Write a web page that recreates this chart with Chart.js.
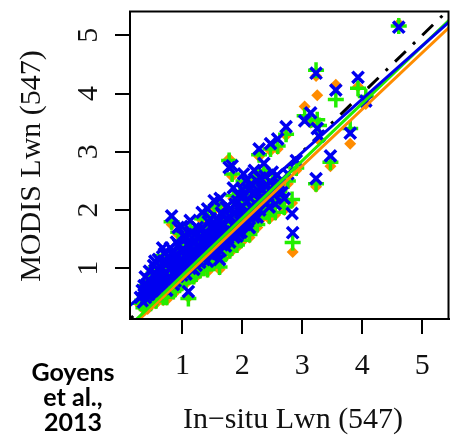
<!DOCTYPE html>
<html>
<head>
<meta charset="utf-8">
<script src="https://cdn.jsdelivr.net/npm/chart.js@4.4.1/dist/chart.umd.min.js"></script>
<style>
  html, body { margin: 0; padding: 0; background: #fff; }
  #wrap { width: 460px; height: 442px; position: relative; }
</style>
</head>
<body>
<div id="wrap"><canvas id="chart_lwn"></canvas></div>
<script>
// in-situ Lwn(547) per station
var insitu = [0.33, 0.38, 0.42, 0.45, 0.50, 0.52, 0.55, 0.58, 0.60, 0.63,
  0.66, 0.68, 0.70, 0.72, 0.75, 0.78, 0.80, 0.82, 0.84, 0.86,
  0.88, 0.90, 0.93, 0.95, 0.98, 1.00, 1.02, 1.05, 1.08, 1.10,
  1.12, 1.15, 1.18, 1.20, 1.22, 1.25, 1.28, 1.30, 1.33, 1.35,
  1.38, 1.40, 1.43, 1.45, 1.48, 1.50, 1.53, 1.55, 1.58, 1.60,
  1.62, 1.65, 1.68, 1.70, 1.73, 1.75, 1.78, 1.80, 1.83, 1.86,
  1.88, 1.90, 1.94, 1.94, 1.97, 2.00, 2.02, 2.05, 2.08, 2.12,
  2.15, 2.18, 2.22, 2.25, 2.28, 2.30, 2.35, 2.40, 2.45, 2.47,
  2.50, 2.55, 2.59, 2.62, 2.70, 2.73, 2.76, 2.83, 2.84, 2.90,
  3.04, 3.14, 3.23, 3.23, 3.25, 3.28, 3.47, 3.56, 3.80, 3.93,
  4.06, 4.61,
  0.36, 0.40, 0.44, 0.48, 0.53, 0.57, 0.62, 0.65, 0.69, 0.73,
  0.76, 0.79, 0.83, 0.87, 0.91, 0.94, 0.97, 1.01, 1.04, 1.07,
  1.11, 1.14, 1.17, 1.21, 1.24, 1.27, 1.31, 1.34, 1.37, 1.41,
  1.44, 1.47, 1.51, 1.54, 1.57, 1.61, 1.64, 1.67, 1.71, 1.74,
  1.77, 1.81, 1.85, 1.89, 1.92, 1.96, 1.99, 2.03, 2.07, 2.10,
  2.14, 2.17, 2.21, 2.24, 2.27, 2.33, 2.38, 2.43, 2.52, 2.58,
  0.30, 0.35, 0.39, 0.43, 0.47, 0.51, 0.56, 0.61, 0.64, 0.71,
  0.74, 0.81, 0.85, 0.89, 0.92, 0.99, 1.03, 1.06, 1.13, 1.16,
  1.19, 1.23, 1.26, 1.29, 1.36, 1.39, 1.42, 1.46, 1.49, 1.52,
  1.56, 1.59, 1.63, 1.66, 1.69, 1.72, 1.76, 1.79, 1.84, 1.87,
  1.91, 1.95, 1.98, 2.04, 2.09, 2.13, 2.19, 2.23, 2.29, 2.34,
  2.41, 2.48, 2.53, 2.60, 2.66,
  0.54, 0.67, 0.99, 1.13, 1.42, 1.63, 1.85, 2.06, 2.20, 2.36];

// MODIS Lwn(547), one array per processing
var modisBlue = [0.62, 0.85, 0.55, 0.95, 0.72, 1.05, 0.62, 0.88, 1.15, 0.78,
  1.00, 0.65, 1.25, 0.92, 1.10, 0.85, 1.35, 1.90, 1.05, 1.20,
  0.78, 1.45, 1.70, 1.12, 1.30, 0.95, 1.55, 1.20, 1.40, 0.60,
  1.05, 1.62, 1.30, 1.48, 1.12, 1.70, 1.38, 1.55, 1.96, 1.22,
  1.62, 1.45, 1.80, 1.32, 1.70, 1.55, 2.16, 1.42, 1.85, 1.62,
  1.15, 1.95, 1.50, 1.75, 2.05, 1.60, 2.73, 1.88, 2.76, 1.53,
  2.10, 1.78, 2.25, 1.60, 1.95, 2.35, 2.62, 1.85, 2.15, 1.70,
  2.45, 2.00, 2.30, 1.88, 3.05, 2.55, 2.15, 2.40, 2.05, 3.14,
  2.65, 2.10, 3.22, 2.45, 2.20, 3.43, 2.62, 1.94, 1.61, 2.85,
  3.53, 3.67, 4.35, 2.54, 3.40, 3.27, 2.93, 4.06, 3.32, 4.28,
  3.87, 5.14,
  0.70, 0.48, 0.80, 0.60, 0.90, 0.75, 0.95, 0.72, 1.10, 0.80,
  1.20, 0.98, 1.25, 0.95, 1.18, 1.40, 1.05, 1.30, 1.00, 1.52,
  1.25, 1.38, 1.15, 1.58, 1.28, 1.50, 1.20, 1.68, 1.40, 1.58,
  1.25, 1.85, 1.48, 1.70, 1.35, 1.80, 1.58, 1.92, 1.45, 1.85,
  1.65, 2.02, 1.75, 1.95, 2.15, 1.72, 2.05, 2.25, 1.95, 2.35,
  2.05, 2.28, 1.98, 2.50, 2.18, 2.35, 2.58, 2.25, 2.42, 2.60,
  0.50, 0.42, 0.62, 0.70, 0.52, 0.64, 0.55, 0.68, 0.88, 0.70,
  0.62, 0.80, 0.72, 1.02, 0.86, 0.88, 1.12, 0.90, 1.00, 1.25,
  0.98, 1.05, 1.35, 1.10, 1.15, 1.30, 1.12, 1.45, 1.22, 1.35,
  1.28, 1.48, 1.30, 1.40, 1.62, 1.38, 1.52, 1.45, 1.62, 1.72,
  1.55, 1.85, 1.62, 1.75, 1.80, 1.92, 1.88, 2.10, 2.00, 2.22,
  2.12, 2.35, 2.25, 2.40, 2.30,
  1.12, 1.35, 1.72, 1.82, 2.02, 2.20, 2.38, 2.50, 2.68, 2.80];

var modisGreen = [0.45, 0.70, 0.42, 0.80, 0.58, 0.92, 0.50, 0.74, 1.02, 0.60,
  0.86, 0.50, 1.12, 0.78, 0.96, 0.68, 1.22, 1.80, 0.90, 1.05,
  0.64, 1.32, 1.62, 0.98, 1.15, 0.80, 1.42, 1.05, 1.25, 0.48,
  0.90, 1.50, 1.15, 1.34, 0.95, 1.58, 1.22, 1.40, 1.85, 1.05,
  1.48, 1.30, 1.68, 1.15, 1.55, 1.40, 2.05, 1.26, 1.72, 1.48,
  1.02, 1.82, 1.35, 1.62, 1.92, 1.42, 2.85, 1.72, 2.62, 1.45,
  1.95, 1.62, 2.12, 1.48, 1.80, 2.22, 2.50, 1.70, 2.00, 1.58,
  2.32, 1.85, 2.15, 1.75, 2.95, 2.42, 2.00, 2.25, 1.90, 3.05,
  2.52, 1.96, 3.10, 2.32, 2.05, 3.30, 2.50, 2.18, 1.44, 2.72,
  3.62, 3.55, 4.40, 2.45, 3.55, 3.45, 2.82, 3.90, 3.40, 4.09,
  3.95, 5.16,
  0.55, 0.38, 0.66, 0.46, 0.76, 0.60, 0.82, 0.56, 0.95, 0.64,
  1.06, 0.84, 1.10, 0.80, 1.02, 1.26, 0.90, 1.15, 0.85, 1.38,
  1.10, 1.22, 0.98, 1.45, 1.12, 1.35, 1.04, 1.55, 1.25, 1.42,
  1.08, 1.72, 1.32, 1.55, 1.18, 1.66, 1.42, 1.78, 1.30, 1.70,
  1.50, 1.88, 1.60, 1.80, 2.02, 1.56, 1.90, 2.12, 1.80, 2.20,
  1.90, 2.14, 1.84, 2.36, 2.04, 2.20, 2.45, 2.10, 2.28, 2.45,
  0.40, 0.32, 0.50, 0.56, 0.40, 0.52, 0.44, 0.55, 0.74, 0.58,
  0.50, 0.66, 0.60, 0.88, 0.72, 0.74, 0.98, 0.78, 0.86, 1.10,
  0.86, 0.90, 1.20, 0.96, 1.00, 1.15, 0.98, 1.30, 1.08, 1.20,
  1.14, 1.34, 1.16, 1.26, 1.48, 1.24, 1.38, 1.30, 1.48, 1.58,
  1.40, 1.72, 1.48, 1.60, 1.66, 1.78, 1.74, 1.96, 1.86, 2.08,
  1.98, 2.20, 2.10, 2.26, 2.16,
  1.00, 1.22, 1.60, 1.70, 1.90, 2.08, 2.25, 2.38, 2.55, 2.68];

var modisOrange = [0.40, 0.62, 0.30, 0.74, 0.50, 0.88, 0.40, 0.70, 0.98, 0.55,
  0.80, 0.45, 1.08, 0.72, 0.90, 0.62, 1.15, 1.75, 0.85, 1.00,
  0.60, 1.28, 1.58, 0.92, 1.10, 0.75, 1.38, 1.00, 1.20, 0.50,
  0.85, 1.45, 1.10, 1.30, 0.90, 1.52, 1.18, 1.36, 1.82, 1.00,
  1.44, 1.26, 1.64, 1.10, 1.50, 1.35, 2.00, 1.22, 1.68, 1.44,
  0.98, 1.78, 1.30, 1.58, 1.88, 1.38, 2.88, 1.68, 2.58, 1.40,
  1.90, 1.58, 2.06, 1.45, 1.75, 2.18, 2.46, 1.65, 1.95, 1.53,
  2.28, 1.80, 2.10, 1.70, 2.92, 2.38, 1.95, 2.22, 1.85, 3.02,
  2.48, 1.92, 3.05, 2.28, 2.00, 3.28, 2.45, 2.12, 1.28, 2.68,
  3.78, 3.50, 4.30, 2.40, 3.97, 3.20, 2.75, 4.15, 3.14, 4.12,
  3.82, 5.20,
  0.50, 0.35, 0.60, 0.40, 0.70, 0.55, 0.78, 0.52, 0.90, 0.58,
  1.00, 0.80, 1.05, 0.75, 0.98, 1.20, 0.86, 1.10, 0.80, 1.34,
  1.04, 1.18, 0.94, 1.40, 1.08, 1.30, 1.00, 1.50, 1.20, 1.38,
  1.04, 1.68, 1.28, 1.50, 1.14, 1.62, 1.38, 1.74, 1.25, 1.66,
  1.45, 1.84, 1.55, 1.76, 1.98, 1.52, 1.86, 2.08, 1.76, 2.16,
  1.86, 2.10, 1.80, 2.32, 2.00, 2.16, 2.40, 2.05, 2.24, 2.42,
  0.36, 0.30, 0.45, 0.52, 0.36, 0.48, 0.40, 0.50, 0.70, 0.55,
  0.46, 0.62, 0.56, 0.84, 0.68, 0.70, 0.94, 0.74, 0.82, 1.06,
  0.82, 0.86, 1.16, 0.92, 0.96, 1.10, 0.94, 1.26, 1.04, 1.16,
  1.10, 1.30, 1.12, 1.22, 1.44, 1.20, 1.34, 1.26, 1.44, 1.54,
  1.36, 1.68, 1.44, 1.56, 1.62, 1.74, 1.70, 1.92, 1.82, 2.04,
  1.94, 2.16, 2.06, 2.22, 2.12,
  0.95, 1.18, 1.55, 1.65, 1.86, 2.04, 2.20, 2.34, 2.50, 2.64];

// least-squares fits: [intercept, slope]
var fitBlue = [0.245, 0.915];
var fitGreen = [-0.108, 0.985];
var fitOrange = [-0.15, 0.97];
var oneToOne = [0, 1];

var xTicks = [1, 2, 3, 4, 5];
var yTicks = [1, 2, 3, 4, 5];
var xRange = [0.126, 5.44];
var yRange = [0.128, 5.41];

var cBlue = "#0000f0";
var cGreen = "#22ee00";
var cOrange = "#ff8c00";

function toPoints(xs, ys) {
  var pts = [];
  for (var i = 0; i < xs.length; i++) {
    pts.push({ x: xs[i], y: ys[i] });
  }
  return pts;
}

function fitLine(coef) {
  // endpoints just past the axis limits, clipped to the plot box
  var x0 = 0, x1 = 5.6;
  return [{ x: x0, y: coef[0] + coef[1] * x0 }, { x: x1, y: coef[0] + coef[1] * x1 }];
}

function lineSet(coef, color, dash) {
  return {
    type: 'line',
    data: fitLine(coef),
    borderColor: color,
    borderWidth: 3,
    borderDash: dash || [],
    pointRadius: 0,
    fill: false,
    showLine: true
  };
}

var frame = {
  id: 'frame',
  afterDraw: function (chart) {
    var ctx = chart.ctx;
    var a = chart.chartArea;
    var xs = chart.scales.x;
    var ys = chart.scales.y;
    ctx.save();
    ctx.strokeStyle = "#000";
    ctx.lineWidth = 2;
    ctx.strokeRect(a.left, a.top, a.right - a.left, a.bottom - a.top);

    ctx.fillStyle = "#111";
    ctx.font = "30px 'Liberation Serif'";
    ctx.textAlign = "center";
    ctx.textBaseline = "alphabetic";
    xTicks.forEach(function (v) {
      ctx.fillText(String(v), xs.getPixelForValue(v), 374);
    });
    ctx.fillText("In\u2212situ Lwn (547)", 293, 428);

    yTicks.forEach(function (v) {
      ctx.save();
      ctx.translate(97, ys.getPixelForValue(v));
      ctx.rotate(-Math.PI / 2);
      ctx.fillText(String(v), 0, 0);
      ctx.restore();
    });
    ctx.save();
    ctx.translate(40, 166);
    ctx.rotate(-Math.PI / 2);
    ctx.fillText("MODIS Lwn (547)", 0, 0);
    ctx.restore();

    ctx.fillStyle = "#000";
    ctx.font = "bold 25px Lato";
    ctx.textBaseline = "middle";
    ctx.fillText("Goyens", 73, 373);
    ctx.fillText("et al.,", 73, 398);
    ctx.fillText("2013", 73, 423);
    ctx.restore();
  }
};

function axisOpts(range, ticks) {
  return {
    type: 'linear',
    min: range[0],
    max: range[1],
    afterBuildTicks: function (axis) {
      axis.ticks = ticks.map(function (v) { return { value: v }; });
    },
    ticks: { display: false },
    grid: {
      display: true,
      drawOnChartArea: false,
      drawTicks: true,
      tickLength: 15,
      color: "#000",
      lineWidth: 2
    },
    border: { display: true, color: "#000", width: 2 }
  };
}

new Chart(document.getElementById("chart_lwn"), {
  type: 'scatter',
  data: {
    datasets: [
      lineSet(fitBlue, cBlue),
      lineSet(fitGreen, cGreen),
      lineSet(fitOrange, cOrange),
      {
        label: "blue",
        data: toPoints(insitu, modisBlue),
        pointStyle: 'crossRot',
        pointRadius: 8,
        pointBorderWidth: 3.5,
        borderColor: cBlue,
        backgroundColor: cBlue
      },
      {
        label: "green",
        data: toPoints(insitu, modisGreen),
        pointStyle: 'cross',
        pointRadius: 8,
        pointBorderWidth: 3.5,
        borderColor: cGreen,
        backgroundColor: cGreen
      },
      {
        label: "orange",
        data: toPoints(insitu, modisOrange),
        pointStyle: 'rectRot',
        pointRadius: 6,
        pointBorderWidth: 0,
        borderColor: cOrange,
        backgroundColor: cOrange
      },
      lineSet(oneToOne, "#000", [15, 10, 3, 10])
    ]
  },
  options: {
    responsive: true,
    maintainAspectRatio: false,
    animation: false,
    layout: { padding: { left: 115, top: 10, right: 2, bottom: 108 } },
    plugins: {
      legend: { display: false },
      tooltip: { enabled: false }
    },
    scales: {
      x: axisOpts(xRange, xTicks),
      y: axisOpts(yRange, yTicks)
    }
  },
  plugins: [frame]
});
</script>
</body>
</html>
